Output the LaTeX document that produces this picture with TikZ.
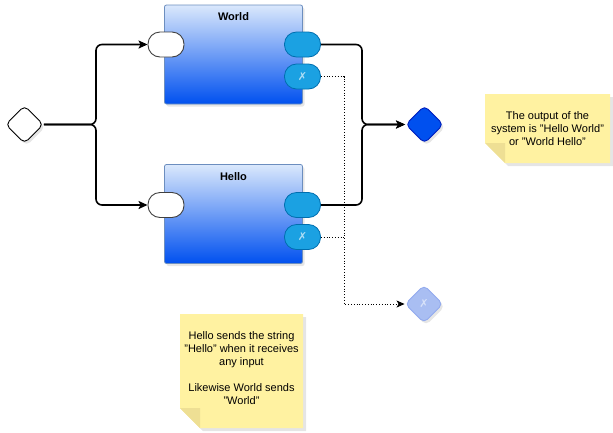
\documentclass[tikz,border=0pt]{standalone}
\usepackage{fontspec}
\setmainfont{Liberation Sans}
\newfontfamily\symfont{DejaVu Sans}
\usetikzlibrary{shapes.geometric,arrows.meta,shadows,calc}
\definecolor{boxtop}{HTML}{DAE8FC}
\definecolor{boxbot}{HTML}{0050EF}
\definecolor{boxline}{HTML}{6C8EBF}
\definecolor{portfill}{HTML}{1BA1E2}
\definecolor{portline}{HTML}{006EAF}
\definecolor{notefill}{HTML}{FFF2A1}
\definecolor{notefold}{HTML}{EEDF94}
\definecolor{endfill}{HTML}{0050EF}
\definecolor{endline}{HTML}{001DBC}
\definecolor{fadefill}{HTML}{A9BEF2}
\definecolor{fadeline}{HTML}{93ABEE}
\tikzset{
  shade/.style={drop shadow={opacity=0.2,shadow xshift=2pt,shadow yshift=-2.5pt}},
  compbox/.style={rectangle,rounded corners=2pt,draw=boxline,line width=0.8pt,top color=boxtop,bottom color=boxbot,minimum width=138pt,minimum height=99pt,shade},
  boxtitle/.style={font=\fontsize{11}{13}\selectfont\bfseries},
  inport/.style={rectangle,rounded corners=12pt,draw=black!75,line width=0.9pt,fill=white,minimum width=36pt,minimum height=25pt,inner sep=0pt},
  outport/.style={rectangle,rounded corners=12pt,draw=portline,line width=0.8pt,fill=portfill,minimum width=36pt,minimum height=25pt,inner sep=0pt,text=white!65!portfill,font=\symfont\fontsize{11}{11}\selectfont},
  gate/.style={diamond,rounded corners=5pt,minimum size=38pt,inner sep=0pt,line width=0.9pt},
  flow/.style={line width=1.6pt,rounded corners=6pt,-{Stealth[length=9pt,width=8pt,inset=2pt]}},
  dotflow/.style={line width=0.8pt,dotted,-{Stealth[length=8pt,width=7pt,inset=2pt]}},
  dotplain/.style={line width=0.8pt,dotted},
  notetext/.style={font=\fontsize{11}{13}\selectfont,align=center,inner sep=0pt},
}
\begin{document}
\begin{tikzpicture}[x=1pt,y=-1pt]
\useasboundingbox (0,0) rectangle (613,432);

% notes
\fill[black,opacity=0.1] (488,97) -- (613,97) -- (613,166) -- (508,166) -- (488,146) -- cycle;
\fill[notefill] (485,94) -- (610,94) -- (610,163) -- (505,163) -- (485,143) -- cycle;
\fill[notefold] (485,143) -- (505,143) -- (505,163) -- cycle;
\node[notetext] (note1) at (547.5,129) {The output of the\\system is "Hello World"\\or "World Hello"};

\fill[black,opacity=0.1] (183,317) -- (306,317) -- (306,431) -- (203,431) -- (183,411) -- cycle;
\fill[notefill] (180,314) -- (303,314) -- (303,428) -- (200,428) -- (180,408) -- cycle;
\fill[notefold] (180,408) -- (200,408) -- (200,428) -- cycle;
\node[notetext] (note2) at (241.5,368) {Hello sends the string\\"Hello" when it receives\\any input\\[13pt]Likewise World sends\\"World"};

% boxes
\node[compbox] (world) at (233.5,54.5) {};
\node[boxtitle] (worldtitle) at (233.5,17) {World};
\node[compbox] (hello) at (233.5,214) {};
\node[boxtitle] (hellotitle) at (233.5,177) {Hello};

% ports
\node[inport] (winp) at (166,44.5) {};
\node[outport] (wout) at (302.5,44.5) {};
\node[outport] (wx) at (302.5,76.5) {\itshape ✗};
\node[inport] (hinp) at (166,205) {};
\node[outport] (hout) at (302.5,205) {};
\node[outport] (hx) at (302.5,237) {\itshape ✗};

% gates
\node[gate,draw=black,fill=white,shade] (start) at (24.5,124.5) {};
\node[gate,draw=endline,fill=endfill,shade] (endd) at (424.5,124.5) {};
\node[gate,draw=fadeline,fill=fadefill,shade,text=white!55!fadefill,font=\symfont\fontsize{11}{11}\selectfont] (fade) at (424,304) {✗};

\coordinate (lsplit) at (96,124.5);
\coordinate (rsplit) at (362,124.5);
\coordinate (dcorner) at (344,304);

% connectors
\draw[flow] (start.east) -- (lsplit) |- (winp.west);
\draw[flow] (start.east) -- (lsplit) |- (hinp.west);
\draw[flow] (wout.east) -| (rsplit) -- (endd.west);
\draw[flow] (hout.east) -| (rsplit) -- (endd.west);
\draw[dotflow] (wx.east) -| (dcorner) -- (fade.west);
\draw[dotplain] (hx.east) -- (hx.east -| dcorner);
\end{tikzpicture}
\end{document}
